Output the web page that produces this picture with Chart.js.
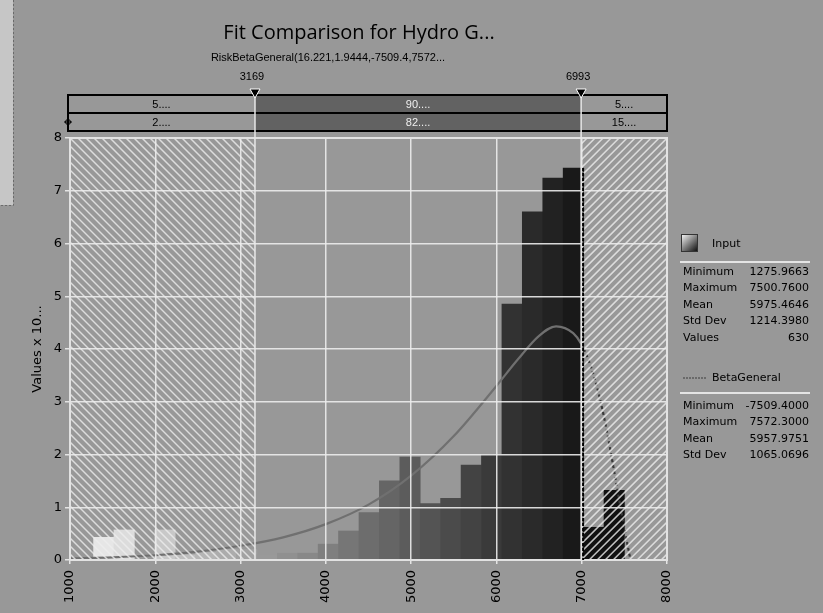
<!DOCTYPE html>
<html>
<head>
<meta charset="utf-8">
<title>Fit Comparison for Hydro G...</title>
<script src="https://cdn.jsdelivr.net/npm/chart.js@4.4.0/dist/chart.umd.min.js"></script>
<style>
  html, body { margin: 0; padding: 0; background: #989898; }
  #wrap { width: 823px; height: 613px; }
</style>
</head>
<body>
<div id="wrap"><canvas id="fitChart" width="823" height="613"></canvas></div>
<script>
// histogram bins of the input (centre of each bin) and density (values x 10^-4)
var binCenters = [1396, 1635, 1875, 2114, 2353, 2593, 2832, 3071, 3311, 3550, 3790, 4029, 4268,
                  4508, 4747, 4987, 5226, 5465, 5705, 5944, 6184, 6423, 6663, 6902, 7141, 7381];
var inputDensity = [0.43, 0.57, 0, 0.57, 0.1, 0.15, 0.2, 0.2, 0.1, 0.13, 0.13, 0.3, 0.55,
                    0.9, 1.5, 1.95, 1.07, 1.17, 1.8, 2.0, 4.85, 6.6, 7.24, 7.43, 0.62, 1.32];

// fitted BetaGeneral curve
var fitX =       [1000, 1500, 2000, 2500, 3000, 3500, 4000, 4500, 5000, 5500, 6000, 6250, 6500, 6700, 6900, 6993, 7100, 7200, 7300, 7400, 7500, 7572];
var fitDensity = [0.03, 0.05, 0.09, 0.16, 0.27, 0.43, 0.68, 1.05, 1.6,  2.35, 3.3,  3.8,  4.25, 4.43, 4.3,  4.1,  3.7,  3.15, 2.4,  1.5,  0.6,  0];

var cutLow = 3169;
var cutHigh = 6993;
var inputPcts = ['5....', '90....', '5....'];
var fitPcts = ['2....', '82....', '15....'];

var inputStats = [['Minimum', '1275.9663'], ['Maximum', '7500.7600'], ['Mean', '5975.4646'],
                  ['Std Dev', '1214.3980'], ['Values', '630']];
var fitStats = [['Minimum', '-7509.4000'], ['Maximum', '7572.3000'], ['Mean', '5957.9751'],
                ['Std Dev', '1065.0696']];

var BG = '#989898';

function barShade(ctx) {
  var x = binCenters[ctx.dataIndex];
  if (x > cutHigh) return '#111111';
  var t = Math.max(0, Math.min(1, (x - 1000) / 6000));
  var g = Math.round(250 - 228 * Math.pow(t, 0.9));
  return 'rgb(' + g + ',' + g + ',' + g + ')';
}

function hatch(ctx, x0, x1, y0, y1, dir) {
  ctx.save();
  ctx.beginPath();
  ctx.rect(x0, y0, x1 - x0, y1 - y0);
  ctx.clip();
  ctx.strokeStyle = 'rgba(238,238,238,0.8)';
  ctx.lineWidth = 1.5;
  var h = y1 - y0;
  ctx.beginPath();
  for (var s = x0 - h - 10; s < x1 + h + 10; s += 8) {
    if (dir > 0) { ctx.moveTo(s, y1); ctx.lineTo(s + h, y0); }
    else { ctx.moveTo(s, y0); ctx.lineTo(s + h, y1); }
  }
  ctx.stroke();
  ctx.restore();
}

var decor = {
  id: 'decor',
  beforeDraw: function(chart) {
    var ctx = chart.ctx;
    ctx.save();
    ctx.fillStyle = BG;
    ctx.fillRect(0, 0, chart.width, chart.height);
    // bit of another window on the left edge
    ctx.fillStyle = '#c6c6c6';
    ctx.fillRect(0, 0, 13, 205);
    ctx.strokeStyle = '#6a6a6a';
    ctx.setLineDash([2, 2]);
    ctx.beginPath();
    ctx.moveTo(13.5, 0); ctx.lineTo(13.5, 205.5); ctx.lineTo(0, 205.5);
    ctx.stroke();
    ctx.restore();
  },
  afterDatasetsDraw: function(chart) {
    var ctx = chart.ctx, a = chart.chartArea, xs = chart.scales.x;
    var xl = xs.getPixelForValue(cutLow), xr = xs.getPixelForValue(cutHigh);
    hatch(ctx, a.left, xl, a.top, a.bottom, -1);
    hatch(ctx, xr, a.right, a.top, a.bottom, 1);
  },
  afterDraw: function(chart) {
    var ctx = chart.ctx, a = chart.chartArea, xs = chart.scales.x, ys = chart.scales.y;
    var xl = xs.getPixelForValue(cutLow), xr = xs.getPixelForValue(cutHigh);
    var L = a.left - 2, R = a.right;
    ctx.save();

    // plot frame
    ctx.strokeStyle = '#e2e2e2';
    ctx.lineWidth = 2;
    ctx.strokeRect(a.left, a.top, a.right - a.left, a.bottom - a.top);

    // dashed edge of the histogram at the right delimiter
    ctx.strokeStyle = '#000';
    ctx.lineWidth = 2;
    ctx.setLineDash([3, 2]);
    ctx.beginPath();
    ctx.moveTo(xr + 2, ys.getPixelForValue(inputDensity[23]));
    ctx.lineTo(xr + 2, a.bottom);
    ctx.stroke();
    ctx.setLineDash([]);

    // percentage bars above the plot
    var r1 = a.top - 43, r2 = a.top - 25, r3 = a.top - 7;
    ctx.fillStyle = '#626262';
    ctx.fillRect(xl, r1, xr - xl, r3 - r1);
    ctx.strokeStyle = '#000';
    ctx.lineWidth = 2;
    ctx.strokeRect(L, r1, R - L, r2 - r1);
    ctx.strokeRect(L, r2, R - L, r3 - r2);

    ctx.font = '11px "Liberation Sans"';
    ctx.textAlign = 'center';
    ctx.textBaseline = 'middle';
    var cx = [(L + xl) / 2, (xl + xr) / 2, (xr + R) / 2];
    for (var i = 0; i < 3; i++) {
      ctx.fillStyle = i === 1 ? '#eeeeee' : '#000';
      ctx.fillText(inputPcts[i], cx[i], (r1 + r2) / 2 + 1);
      ctx.fillText(fitPcts[i], cx[i], (r2 + r3) / 2 + 1);
    }
    // small marker at left of second row
    ctx.strokeStyle = '#000';
    ctx.lineWidth = 1;
    ctx.beginPath();
    ctx.arc(L, (r2 + r3) / 2, 2.5, 0, Math.PI * 2);
    ctx.moveTo(L - 4, (r2 + r3) / 2); ctx.lineTo(L + 4, (r2 + r3) / 2);
    ctx.stroke();

    // delimiter lines, triangles and labels
    [xl, xr].forEach(function(px, k) {
      ctx.strokeStyle = '#e8e8e8';
      ctx.lineWidth = 1.5;
      ctx.beginPath();
      ctx.moveTo(px, r1 - 4); ctx.lineTo(px, a.bottom);
      ctx.stroke();
      ctx.fillStyle = '#000';
      ctx.strokeStyle = '#ffffff';
      ctx.lineWidth = 1;
      ctx.beginPath();
      ctx.moveTo(px - 5, r1 - 6); ctx.lineTo(px + 5, r1 - 6); ctx.lineTo(px, r1 + 3);
      ctx.closePath();
      ctx.fill(); ctx.stroke();
      ctx.fillStyle = '#000';
      ctx.font = '11px "Liberation Sans"';
      ctx.fillText(String(k === 0 ? cutLow : cutHigh), px - 3, r1 - 18);
    });

    // titles
    ctx.fillStyle = '#000';
    ctx.font = '20px "Open Sans"';
    ctx.fillText('Fit Comparison for Hydro G...', 359, 33);
    ctx.font = '11px "Liberation Sans"';
    ctx.fillText('RiskBetaGeneral(16.221,1.9444,-7509.4,7572...', 328, 58);

    // legend panel
    var g = ctx.createLinearGradient(681, 234, 697, 251);
    g.addColorStop(0, '#ffffff');
    g.addColorStop(1, '#111111');
    ctx.fillStyle = g;
    ctx.fillRect(681, 234, 16, 17);
    ctx.strokeStyle = '#333';
    ctx.lineWidth = 1;
    ctx.strokeRect(681.5, 234.5, 16, 17);

    ctx.font = '11px "DejaVu Sans"';
    ctx.textAlign = 'left';
    ctx.fillStyle = '#000';
    ctx.fillText('Input', 712, 244);
    ctx.fillText('BetaGeneral', 712, 378);

    ctx.strokeStyle = '#6a6a6a';
    ctx.lineWidth = 2;
    ctx.setLineDash([2, 1]);
    ctx.beginPath();
    ctx.moveTo(683, 378); ctx.lineTo(706, 378);
    ctx.stroke();
    ctx.setLineDash([]);

    ctx.strokeStyle = '#e4e4e4';
    ctx.lineWidth = 2;
    ctx.beginPath();
    ctx.moveTo(680, 262); ctx.lineTo(810, 262);
    ctx.moveTo(680, 393); ctx.lineTo(810, 393);
    ctx.stroke();

    function statRows(rows, y0) {
      rows.forEach(function(r, i) {
        var y = y0 + i * 16.5;
        ctx.textAlign = 'left';
        ctx.fillText(r[0], 683, y);
        ctx.textAlign = 'right';
        ctx.fillText(r[1], 809, y);
      });
    }
    ctx.fillStyle = '#000';
    statRows(inputStats, 272);
    statRows(fitStats, 406);

    ctx.restore();
  }
};

var fitPoints = fitX.map(function(x, i) { return { x: x, y: fitDensity[i] }; });
var histPoints = binCenters.map(function(x, i) { return { x: x, y: inputDensity[i] }; });

new Chart(document.getElementById('fitChart'), {
  type: 'bar',
  data: {
    datasets: [{
      type: 'line',
      label: 'BetaGeneral',
      data: fitPoints,
      order: 1,
      borderColor: '#707070',
      borderWidth: 2.2,
      pointRadius: 0,
      cubicInterpolationMode: 'monotone',
      segment: {
        borderDash: function(ctx) { return ctx.p0.parsed.x >= cutHigh ? [3, 3] : undefined; },
        borderColor: function(ctx) { return ctx.p0.parsed.x >= cutHigh ? '#3a3a3a' : undefined; }
      }
    }, {
      type: 'bar',
      label: 'Input',
      data: histPoints,
      order: 2,
      grouped: false,
      barPercentage: 1,
      categoryPercentage: 1,
      borderWidth: 0,
      backgroundColor: barShade
    }]
  },
  options: {
    responsive: false,
    animation: false,
    layout: { padding: { left: 0, top: 138, right: 156, bottom: 0 } },
    plugins: { legend: { display: false }, tooltip: { enabled: false }, title: { display: false } },
    scales: {
      x: {
        type: 'linear',
        offset: false,
        min: 1000,
        max: 8000,
        afterFit: function(s) { s.height = 53; },
        ticks: {
          stepSize: 1000,
          minRotation: 90,
          maxRotation: 90,
          padding: 6,
          color: '#000',
          font: { family: 'DejaVu Sans', size: 13 },
          callback: function(v) { return String(v); }
        },
        grid: { offset: false, z: 1, color: 'rgba(236,236,236,0.9)', lineWidth: 1.5, tickLength: 4 },
        border: { display: false }
      },
      y: {
        min: 0,
        max: 8,
        afterFit: function(s) { s.width = 70; },
        ticks: {
          stepSize: 1,
          padding: 3,
          color: '#000',
          font: { family: 'DejaVu Sans', size: 13 }
        },
        title: {
          display: true,
          text: 'Values x 10...',
          color: '#000',
          padding: { top: 30 },
          font: { family: 'DejaVu Sans', size: 13 }
        },
        grid: { z: 1, color: 'rgba(236,236,236,0.9)', lineWidth: 1.5, tickLength: 5 },
        border: { display: false }
      }
    }
  },
  plugins: [decor]
});
</script>
</body>
</html>
